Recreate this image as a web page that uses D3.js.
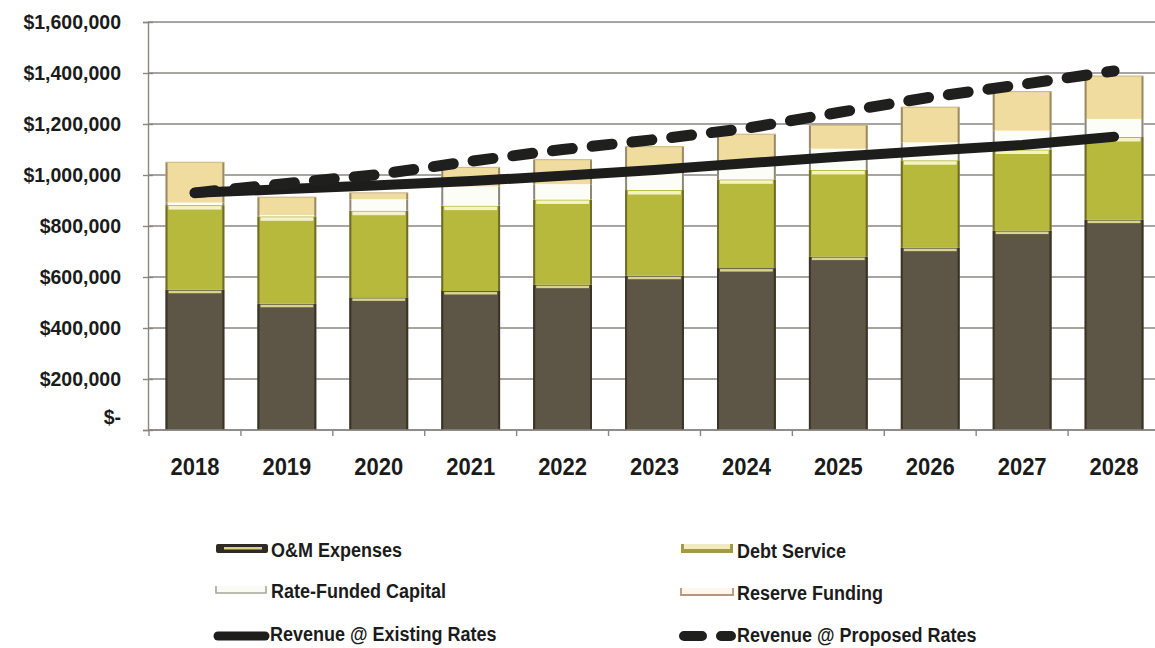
<!DOCTYPE html>
<html>
<head>
<meta charset="utf-8">
<script src="https://cdn.jsdelivr.net/npm/d3@7/dist/d3.min.js"></script>
<style>
  html, body { margin: 0; padding: 0; background: #ffffff; }
  svg { display: block; }
  text { font-family: "Liberation Sans", Arial, sans-serif; font-weight: bold; fill: #1b1b1b; }
</style>
</head>
<body>
<svg id="chart" width="1155" height="648"></svg>
<script>
// Fiscal years shown on the x axis
const years = ["2018", "2019", "2020", "2021", "2022", "2023", "2024", "2025", "2026", "2027", "2028"];

// Revenue requirement components (stacked bars), in dollars
const omExpenses        = [550000, 495000, 520000, 545000, 570000, 605000, 635000, 680000, 715000, 782000, 825000];
const debtService       = [332000, 343000, 340000, 335000, 334000, 336000, 348000, 340000, 343000, 318000, 324000];
const rateFundedCapital = [10000, 5000, 45000, 75000, 60000, 67000, 70000, 83000, 70000, 74000, 71000];
const reserveFunding    = [158000, 70000, 25000, 75000, 96000, 103000, 107000, 92000, 138000, 153000, 168000];

// Revenue lines, in dollars
const revenueExisting = [930000, 945000, 960000, 976000, 997000, 1020000, 1046000, 1072000, 1095000, 1118000, 1150000];
const revenueProposed = [930000, 967000, 1002000, 1054000, 1100000, 1139000, 1183000, 1245000, 1305000, 1355000, 1408000];

// Y axis tick values
const yTicks = [0, 200000, 400000, 600000, 800000, 1000000, 1200000, 1400000, 1600000];

const seriesKeys = ["om", "debt", "rfc", "reserve"];
const seriesNames = {
  om: "O&M Expenses",
  debt: "Debt Service",
  rfc: "Rate-Funded Capital",
  reserve: "Reserve Funding"
};
const fills = { om: "#5d5646", debt: "#b7b93c", rfc: "#fdfdf8", reserve: "#f1dc9f" };
const edges = { om: "#3a3428", debt: "#6f6a2e", rfc: "#8d877a", reserve: "#9a8a68" };
const rims  = { om: "#d8d48c", debt: "#f4f2c6", rfc: null, reserve: null };

const rows = years.map((yr, i) => ({
  year: yr,
  om: omExpenses[i],
  debt: debtService[i],
  rfc: rateFundedCapital[i],
  reserve: reserveFunding[i]
}));

const svg = d3.select("#chart");

const x = d3.scaleBand()
  .domain(years)
  .range([149, 1160])
  .paddingInner(0.36)
  .paddingOuter(0.18);

const y = d3.scaleLinear()
  .domain([0, 1600000])
  .range([430, 22]);

const gridColor = "#8b8680";

// Horizontal gridlines behind the bars
svg.append("g")
  .selectAll("line")
  .data(yTicks)
  .join("line")
  .attr("x1", 148)
  .attr("x2", 1160)
  .attr("y1", d => y(d))
  .attr("y2", d => y(d))
  .attr("stroke", gridColor)
  .attr("stroke-width", 1.4);

// Y axis
const yAxis = d3.axisLeft(y)
  .tickValues(yTicks)
  .tickSize(5)
  .tickPadding(22)
  .tickFormat(v => v === 0 ? "$-" : "$" + d3.format(",")(v));

const gy = svg.append("g")
  .attr("transform", "translate(148,0)")
  .call(yAxis);
gy.select(".domain").attr("stroke", gridColor).attr("stroke-width", 1.4);
gy.selectAll(".tick line").attr("stroke", gridColor).attr("stroke-width", 1.4).attr("x2", -5).attr("x1", 5);
gy.selectAll(".tick text")
  .style("font-size", "19.5px")
  .style("font-family", "'Liberation Sans', Arial, sans-serif")
  .style("font-weight", "bold")
  .attr("fill", "#1b1b1b")
  .attr("dy", d => d === 0 ? "-0.35em" : "0.32em");

// Stacked bars
const stack = d3.stack().keys(seriesKeys);
const stacked = stack(rows);
const bw = x.bandwidth();

const barLayer = svg.append("g");
stacked.forEach(layer => {
  const key = layer.key;
  const g = barLayer.append("g");
  g.selectAll("rect.seg")
    .data(layer)
    .join("rect")
    .attr("class", "seg")
    .attr("x", d => x(d.data.year))
    .attr("width", bw)
    .attr("y", d => y(d[1]))
    .attr("height", d => Math.max(0, y(d[0]) - y(d[1])))
    .attr("fill", fills[key]);
  // side edges of each segment
  g.selectAll("line.left")
    .data(layer)
    .join("line")
    .attr("class", "left")
    .attr("x1", d => x(d.data.year) + 1)
    .attr("x2", d => x(d.data.year) + 1)
    .attr("y1", d => y(d[1]))
    .attr("y2", d => y(d[0]))
    .attr("stroke", edges[key])
    .attr("stroke-width", 2);
  g.selectAll("line.right")
    .data(layer)
    .join("line")
    .attr("class", "right")
    .attr("x1", d => x(d.data.year) + bw - 1)
    .attr("x2", d => x(d.data.year) + bw - 1)
    .attr("y1", d => y(d[1]))
    .attr("y2", d => y(d[0]))
    .attr("stroke", edges[key])
    .attr("stroke-width", 2);
  // light rim along the top of the segment
  if (rims[key]) {
    g.selectAll("rect.rim")
      .data(layer)
      .join("rect")
      .attr("class", "rim")
      .attr("x", d => x(d.data.year) + 3)
      .attr("width", bw - 6)
      .attr("y", d => y(d[1]) + 1)
      .attr("height", key === "om" ? 2.5 : 3.5)
      .attr("fill", rims[key]);
  }
});

// Thin outline at the very top of each bar
barLayer.append("g")
  .selectAll("line")
  .data(stacked[stacked.length - 1])
  .join("line")
  .attr("x1", d => x(d.data.year))
  .attr("x2", d => x(d.data.year) + bw)
  .attr("y1", d => y(d[1]))
  .attr("y2", d => y(d[1]))
  .attr("stroke", "#c9b47a")
  .attr("stroke-width", 1);

// X axis baseline and category boundary ticks
svg.append("line")
  .attr("x1", 148).attr("x2", 1160)
  .attr("y1", y(0)).attr("y2", y(0))
  .attr("stroke", gridColor).attr("stroke-width", 1.4);

const step = x.step();
svg.append("g")
  .selectAll("line")
  .data(years)
  .join("line")
  .attr("x1", d => x(d) - (step - bw) / 2)
  .attr("x2", d => x(d) - (step - bw) / 2)
  .attr("y1", y(0))
  .attr("y2", y(0) + 6)
  .attr("stroke", gridColor)
  .attr("stroke-width", 1.4);

svg.append("g")
  .selectAll("text")
  .data(years)
  .join("text")
  .attr("transform", d => `translate(${x(d) + bw / 2},475) scale(1,1.08)`)
  .attr("text-anchor", "middle")
  .style("font-size", "22px")
  .text(d => d);

// Revenue lines
const cx = d => x(d) + bw / 2;
const lineGen = d3.line()
  .x(d => cx(d.year))
  .y(d => y(d.value));

const existingPts = years.map((yr, i) => ({ year: yr, value: revenueExisting[i] }));
const proposedPts = years.map((yr, i) => ({ year: yr, value: revenueProposed[i] }));

svg.append("path")
  .datum(existingPts)
  .attr("d", lineGen)
  .attr("fill", "none")
  .attr("stroke", "#1d1d1b")
  .attr("stroke-width", 10)
  .attr("stroke-linecap", "round")
  .attr("stroke-linejoin", "round");

svg.append("path")
  .datum(proposedPts)
  .attr("d", lineGen)
  .attr("fill", "none")
  .attr("stroke", "#1f1f1d")
  .attr("stroke-width", 11)
  .attr("stroke-linecap", "round")
  .attr("stroke-dasharray", "20,20");

// Legend
const legend = svg.append("g");
const legendItems = [
  { key: "om",       x: 216, y: 548, tx: 271, ty: 557 },
  { key: "debt",     x: 681, y: 548, tx: 737, ty: 558 },
  { key: "rfc",      x: 216, y: 589, tx: 271, ty: 598 },
  { key: "reserve",  x: 681, y: 591, tx: 737, ty: 600 }
];

legendItems.forEach(it => {
  const k = it.key;
  if (k === "om") {
    legend.append("rect").attr("x", it.x).attr("y", it.y - 4).attr("width", 52).attr("height", 9)
      .attr("rx", 2).attr("fill", "#2f2b22");
    legend.append("rect").attr("x", it.x + 8).attr("y", it.y - 1).attr("width", 38).attr("height", 2.5)
      .attr("fill", "#d9d27a");
  } else if (k === "debt") {
    legend.append("rect").attr("x", it.x).attr("y", it.y - 4).attr("width", 52).attr("height", 9)
      .attr("fill", "#a39a48");
    legend.append("rect").attr("x", it.x + 3).attr("y", it.y - 4).attr("width", 46).attr("height", 5)
      .attr("fill", "#f1ecc0");
  } else if (k === "rfc") {
    legend.append("path")
      .attr("d", `M${it.x},${it.y - 3}V${it.y + 4}H${it.x + 50}V${it.y - 3}`)
      .attr("fill", "#fbfbf6").attr("stroke", "#a8a69c").attr("stroke-width", 1.6);
  } else {
    legend.append("path")
      .attr("d", `M${it.x},${it.y - 3}V${it.y + 4}H${it.x + 52}V${it.y - 3}`)
      .attr("fill", "#fdf7ef").attr("stroke", "#b8967a").attr("stroke-width", 1.8);
  }
  legend.append("text")
    .attr("transform", `translate(${it.tx},${it.ty}) scale(1,1.12)`)
    .style("font-size", "18px")
    .text(seriesNames[k]);
});

// Line legend entries
legend.append("line")
  .attr("x1", 218).attr("x2", 265).attr("y1", 636).attr("y2", 636)
  .attr("stroke", "#1d1d1b").attr("stroke-width", 9).attr("stroke-linecap", "round");
legend.append("text")
  .attr("transform", "translate(270,641) scale(1,1.12)")
  .style("font-size", "18px")
  .text("Revenue @ Existing Rates");

legend.append("line")
  .attr("x1", 684).attr("x2", 731).attr("y1", 636).attr("y2", 636)
  .attr("stroke", "#1f1f1d").attr("stroke-width", 10).attr("stroke-linecap", "round")
  .attr("stroke-dasharray", "18,19");
legend.append("text")
  .attr("transform", "translate(737,642) scale(1,1.12)")
  .style("font-size", "18px")
  .text("Revenue @ Proposed Rates");
</script>
</body>
</html>
